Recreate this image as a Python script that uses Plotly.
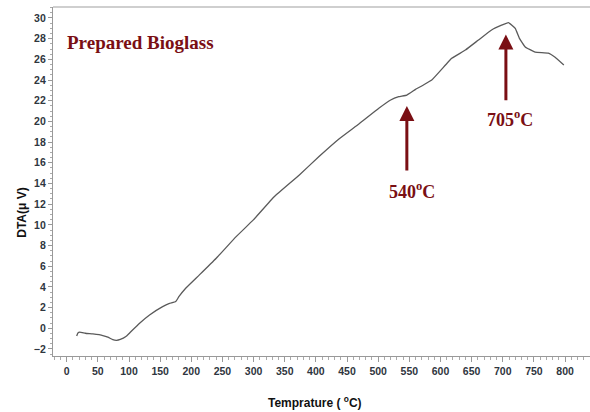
import plotly.graph_objects as go

# Data
temperature = [16, 18, 21, 30, 42, 58, 66, 74, 80, 86, 95, 101, 117, 133, 154, 165, 175, 180, 191,
               213, 240, 272, 300, 333, 373, 405, 437, 469, 501, 520, 533, 546, 560, 572, 586, 608,
               618, 640, 661, 682, 698, 709, 720, 727, 736, 752, 773, 784, 798]
dta = [-0.74, -0.45, -0.38, -0.48, -0.55, -0.70, -0.85, -1.10, -1.16, -1.08, -0.80, -0.45, 0.49,
       1.29, 2.10, 2.40, 2.58, 3.05, 3.87, 5.16, 6.77, 8.86, 10.5, 12.72, 14.8, 16.6, 18.3,
       19.75, 21.27, 22.07, 22.39, 22.55, 23.1, 23.5, 24.0, 25.45, 26.1, 26.9, 27.87, 28.84, 29.3,
       29.55, 29.0, 28.0, 27.2, 26.7, 26.6, 26.2, 25.45]

peak_labels = ["540<sup>o</sup>C", "705<sup>o</sup>C"]
peak_arrow_x = [546, 705]
peak_arrow_top = [21.5, 28.4]
peak_arrow_bottom = [15.1, 21.9]
peak_label_x = [554, 711]
peak_label_y = [13.3, 20.3]

x_ticks = list(range(0, 801, 50))
y_ticks = list(range(-2, 31, 2))

dark_red = "#7a0f14"
tick_col = "#2f3640"

fig = go.Figure()
fig.add_trace(go.Scatter(x=temperature, y=dta, mode="lines",
                         line=dict(color="#5a5a5a", width=1.3, shape="spline", smoothing=0.3),
                         showlegend=False))

for lab, ax_, top, bot, lx, ly in zip(peak_labels, peak_arrow_x, peak_arrow_top,
                                       peak_arrow_bottom, peak_label_x, peak_label_y):
    fig.add_annotation(x=ax_, y=top, ax=ax_, ay=bot, xref="x", yref="y", axref="x", ayref="y",
                       text="", showarrow=True, arrowhead=2, arrowsize=1, arrowwidth=3,
                       arrowcolor=dark_red)
    fig.add_annotation(x=lx, y=ly, xref="x", yref="y", text=lab, showarrow=False,
                       font=dict(family="Liberation Serif", size=18, color=dark_red, weight="bold"))

fig.add_annotation(x=-2, y=27.6, xref="x", yref="y", xanchor="left", yanchor="middle",
                   text="Prepared Bioglass", showarrow=False,
                   font=dict(family="Liberation Serif", size=19, color=dark_red, weight="bold"))

fig.add_annotation(x=-0.058, y=0.41, xref="paper", yref="paper", xanchor="center",
                   yanchor="middle", text="DTA(μ V)", textangle=-90, showarrow=False,
                   font=dict(family="Liberation Sans", size=12, color="#111", weight="bold"))
fig.add_annotation(x=0.488, y=-0.131, xref="paper", yref="paper", xanchor="center",
                   yanchor="middle", text="Temprature ( <sup>o</sup>C)", showarrow=False,
                   font=dict(family="Liberation Sans", size=12, color="#111", weight="bold"))

fig.add_shape(type="line", xref="paper", yref="paper", x0=0, x1=1, y0=1, y1=1,
              line=dict(color="#cfcfcf", width=2))

fig.update_xaxes(range=[-22, 840], tickvals=x_ticks, showline=True, linecolor="#999999",
                 linewidth=1.2, ticks="outside", ticklen=5, tickcolor="#999999", showgrid=False,
                 zeroline=False,
                 tickfont=dict(family="Liberation Sans", size=10.5, color=tick_col, weight="bold"),
                 minor=dict(dtick=10, ticks="outside", ticklen=3, tickcolor="#aaaaaa"))
fig.update_yaxes(range=[-2.68, 31.06], tickvals=y_ticks, showline=True, linecolor="#999999",
                 linewidth=1.2, ticks="outside", ticklen=4, tickcolor="#999999", showgrid=False,
                 zeroline=False,
                 tickfont=dict(family="Liberation Sans", size=10.5, color=tick_col, weight="bold"),
                 minor=dict(dtick=0.5, ticks="outside", ticklen=2, tickcolor="#aaaaaa"))

fig.update_layout(width=590, height=412, margin=dict(l=53, r=0, t=7, b=56),
                  plot_bgcolor="white", paper_bgcolor="white")

fig.write_html("out.html", config={"displayModeBar": False},
               post_script="document.body.style.margin='0';document.body.style.overflow='hidden';")
